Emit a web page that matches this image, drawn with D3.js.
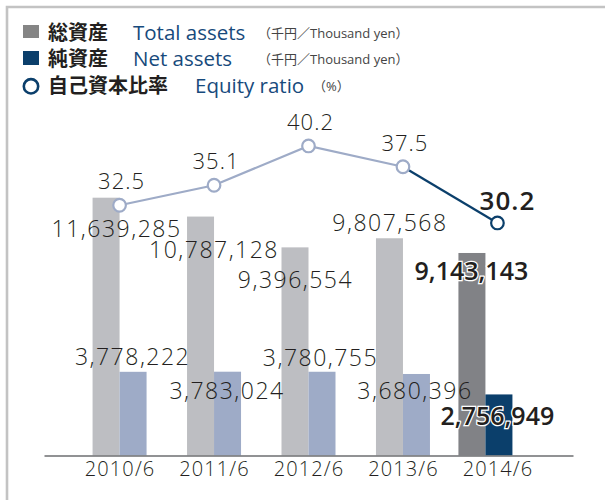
<!DOCTYPE html>
<html>
<head>
<meta charset="utf-8">
<script src="https://cdn.jsdelivr.net/npm/d3@7"></script>
<style>
  body { margin: 0; background: #fff; }
  .num { font-family: "Open Sans", sans-serif; font-weight: 300; fill: #231f20; }
  .big { font-family: "Open Sans", sans-serif; font-weight: 600; fill: #231f20;
         stroke: #fff; stroke-width: 2.5px; paint-order: stroke; }
  .jp { font-family: "Noto Sans CJK JP", sans-serif; font-weight: 700; fill: #231f20; }
  .en { font-family: "Open Sans", sans-serif; fill: #174a7c; }
  .unit { font-family: "Open Sans", "Noto Sans CJK JP", sans-serif; fill: #444; font-size: 13px; }
</style>
</head>
<body>
<div class="canvas"></div>
<script>
// chart data
var years = ['2010/6', '2011/6', '2012/6', '2013/6', '2014/6'];
var totalAssets = [11639285, 10787128, 9396554, 9807568, 9143143];
var netAssets = [3778222, 3783024, 3780755, 3680396, 2756949];
var equityRatio = [32.5, 35.1, 40.2, 37.5, 30.2];

// legend text
var legendJp = ['総資産', '純資産', '自己資本比率'];
var legendEn = ['Total assets', 'Net assets', 'Equity ratio'];
var legendUnit = ['（千円／Thousand yen）', '（千円／Thousand yen）', '（%）'];

// label nudges [dx, dy] relative to group centre / bar top (hand placed like the original)
var totalNudge = [[-3, 39], [0, 41], [-13, 41], [-13, -7], [-26, 27]];
var netNudge = [[13, -7], [13, 27], [12, -6], [12, 25], [0, 31]];

var W = 605, H = 500;
var baseY = 455.5;
var last = years.length - 1;
var barW = 27;
var highlightShift = -12;

var colors = {
  total: '#bdbec2', net: '#9eabc7',
  totalHi: '#818286', netHi: '#0b3f6b',
  line: '#9eabc7', lineHi: '#0b3f6b'
};

var svg = d3.select('.canvas')
  .append('svg')
  .attr('width', W)
  .attr('height', H);

// frame
svg.append('path')
  .attr('d', 'M7,' + H + 'V7H' + W)
  .attr('fill', 'none')
  .attr('stroke', '#c3c3c3')
  .attr('stroke-width', 2.6);

var x = d3.scalePoint().domain(years).range([44, 573]).padding(0.8);
var yAmt = d3.scaleLinear().domain([0, 12000000]).range([baseY, baseY - 265.8]);
var yPct = d3.scaleLinear().domain([0, 50]).range([baseY, 70.5]);

function shift(i) { return i === last ? highlightShift : 0; }

// bars
var g = svg.append('g');
g.selectAll('rect.total')
  .data(totalAssets)
  .enter().append('rect')
  .attr('class', 'total')
  .attr('x', function(d, i){ return x(years[i]) - barW + shift(i); })
  .attr('y', function(d){ return yAmt(d); })
  .attr('width', barW)
  .attr('height', function(d){ return baseY - yAmt(d); })
  .attr('fill', function(d, i){ return i === last ? colors.totalHi : colors.total; });

g.selectAll('rect.net')
  .data(netAssets)
  .enter().append('rect')
  .attr('class', 'net')
  .attr('x', function(d, i){ return x(years[i]) + shift(i); })
  .attr('y', function(d){ return yAmt(d); })
  .attr('width', barW)
  .attr('height', function(d){ return baseY - yAmt(d); })
  .attr('fill', function(d, i){ return i === last ? colors.netHi : colors.net; });

// axis
var axis = svg.append('g')
  .attr('transform', 'translate(0,' + baseY + ')')
  .call(d3.axisBottom(x).tickSize(0).tickPadding(6));
axis.select('.domain').attr('stroke', '#6d6e71').attr('stroke-width', 1.6);
axis.selectAll('text')
  .attr('class', 'num')
  .style('font-size', '20px')
  .style('letter-spacing', '1.1px')
  .attr('fill', '#231f20');

// bar value labels
var fmt = d3.format(',');
function valueLabels(cls, values, nudge) {
  svg.selectAll('text.' + cls)
    .data(values)
    .enter().append('text')
    .attr('class', function(d, i){ return i === last ? 'big' : 'num'; })
    .attr('text-anchor', 'middle')
    .attr('x', function(d, i){ return x(years[i]) + nudge[i][0]; })
    .attr('y', function(d, i){ return yAmt(d) + nudge[i][1]; })
    .style('font-size', function(d, i){ return i === last ? '25px' : '23px'; })
    .style('letter-spacing', function(d, i){ return i === last ? '0px' : '1.5px'; })
    .text(function(d){ return fmt(d); });
}
valueLabels('totalLbl', totalAssets, totalNudge);
valueLabels('netLbl', netAssets, netNudge);

// equity ratio line
var pts = equityRatio.map(function(v, i){ return [x(years[i]), yPct(v)]; });
var line = d3.line();
svg.append('path')
  .attr('d', line(pts.slice(0, last)))
  .attr('fill', 'none')
  .attr('stroke', colors.line)
  .attr('stroke-width', 2.2);
svg.append('path')
  .attr('d', line(pts.slice(last - 1)))
  .attr('fill', 'none')
  .attr('stroke', colors.lineHi)
  .attr('stroke-width', 2.2);

svg.selectAll('circle.pt')
  .data(equityRatio)
  .enter().append('circle')
  .attr('cx', function(d, i){ return x(years[i]); })
  .attr('cy', function(d){ return yPct(d); })
  .attr('r', 6.3)
  .attr('fill', '#fff')
  .attr('stroke', function(d, i){ return i === last ? colors.lineHi : colors.line; })
  .attr('stroke-width', 2.2);

svg.selectAll('text.pct')
  .data(equityRatio)
  .enter().append('text')
  .attr('class', function(d, i){ return i === last ? 'big' : 'num'; })
  .attr('text-anchor', 'middle')
  .attr('x', function(d, i){ return x(years[i]) + (i === last ? 10 : 2); })
  .attr('y', function(d, i){ return yPct(d) - (i === last ? 13 : 16); })
  .style('font-size', function(d, i){ return i === last ? '26px' : '22px'; })
  .style('letter-spacing', function(d, i){ return i === last ? '1px' : '1px'; })
  .text(function(d){ return d.toFixed(1); });

// legend
var legend = svg.append('g');
var rowY = [40, 66, 93];
legend.append('rect').attr('x', 23).attr('y', 25).attr('width', 16).attr('height', 13).attr('fill', '#858585');
legend.append('rect').attr('x', 23).attr('y', 51).attr('width', 16).attr('height', 14).attr('fill', colors.netHi);
legend.append('circle').attr('cx', 31).attr('cy', 86.3).attr('r', 7.2)
  .attr('fill', '#fff').attr('stroke', colors.netHi).attr('stroke-width', 2.6);

legend.selectAll('text.jp')
  .data(legendJp)
  .enter().append('text')
  .attr('class', 'jp')
  .attr('x', 48)
  .attr('y', function(d, i){ return rowY[i]; })
  .style('font-size', '20px')
  .text(function(d){ return d; });

var enX = [133, 133, 195];
legend.selectAll('text.en')
  .data(legendEn)
  .enter().append('text')
  .attr('class', 'en')
  .attr('x', function(d, i){ return enX[i]; })
  .attr('y', function(d, i){ return rowY[i]; })
  .style('font-size', '20.5px')
  .style('font-weight', 500)
  .text(function(d){ return d; });

var unitX = [258, 258, 313];
legend.selectAll('text.unit')
  .data(legendUnit)
  .enter().append('text')
  .attr('class', 'unit')
  .attr('x', function(d, i){ return unitX[i]; })
  .attr('y', function(d, i){ return rowY[i] - 2; })
  .text(function(d){ return d; });
</script>
</body>
</html>
